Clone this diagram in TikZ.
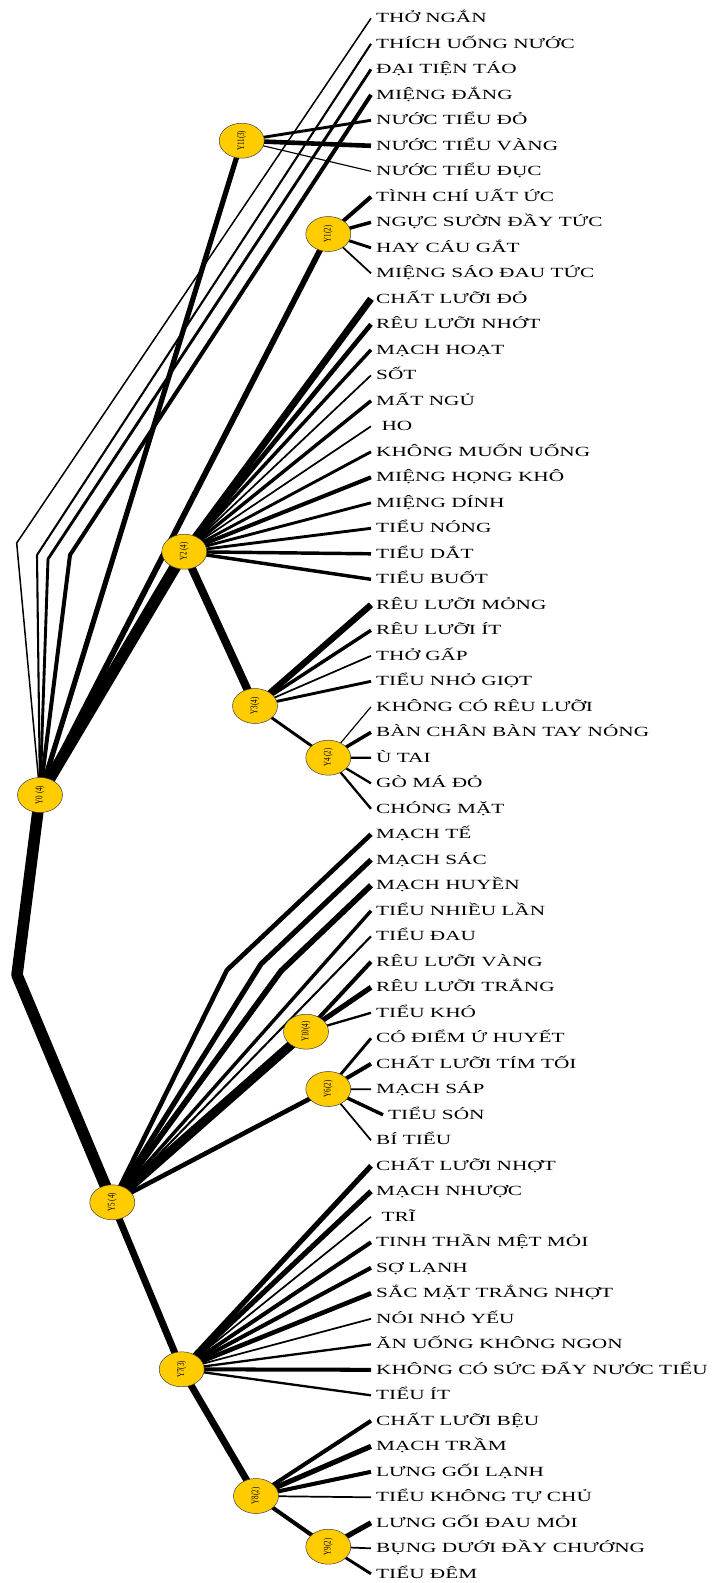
\documentclass[tikz,border=0pt]{standalone}
\usepackage{fontspec}
\usepackage{graphicx}
\setmainfont{Liberation Serif}
\usetikzlibrary{shapes.geometric,backgrounds}
\definecolor{ygold}{RGB}{255,204,0}
\newcommand\leaftext[1]{\scalebox{1.52}[1]{#1}}
\newcommand\ylab[1]{\rotatebox{90}{\scalebox{1}[1.45]{#1}}}
\begin{document}
\begin{tikzpicture}[x=1pt,y=-1pt,
  yn/.style={ellipse,draw=black!75,line width=0.5pt,fill=ygold,minimum width=45pt,minimum height=35pt,inner sep=0pt,font=\fontsize{7}{7}\selectfont},
  lf/.style={anchor=west,inner xsep=5pt,inner ysep=0pt,text height=9.3pt,text depth=0pt,font=\fontsize{14}{14}\selectfont},
  ed/.style={line width=1.15*#1pt,line join=round}
]
\useasboundingbox (0,0) rectangle (712,1583);

% internal nodes
\node[yn] (Y0)  at (40,795)     {\ylab{Y0 (4)}};
\node[yn] (Y11) at (241.7,140.7){\ylab{Y11(3)}};
\node[yn] (Y1)  at (328.3,234)  {\ylab{Y1(2)}};
\node[yn] (Y2)  at (184.3,551.7){\ylab{Y2 (4)}};
\node[yn] (Y3)  at (255,706)    {\ylab{Y3(4)}};
\node[yn] (Y4)  at (328.3,757.7){\ylab{Y4 (2)}};
\node[yn] (Y10) at (306,1031.7) {\ylab{Y10(4)}};
\node[yn] (Y6)  at (328.3,1089) {\ylab{Y6(2)}};
\node[yn] (Y5)  at (112.3,1202.3){\ylab{Y5 (4)}};
\node[yn] (Y7)  at (181.7,1369.3){\ylab{Y7(3)}};
\node[yn] (Y8)  at (256,1496)   {\ylab{Y8(2)}};
\node[yn] (Y9)  at (328.3,1546.7){\ylab{Y9(2)}};

% leaves
\foreach \t [count=\i] in {THỞ NGẮN,THÍCH UỐNG NƯỚC,ĐẠI TIỆN TÁO,MIỆNG ĐẮNG,NƯỚC TIỂU ĐỎ,NƯỚC TIỂU VÀNG,NƯỚC TIỂU ĐỤC,TÌNH CHÍ UẤT ỨC,NGỰC SƯỜN ĐẦY TỨC,HAY CÁU GẮT,MIỆNG SÁO ĐAU TỨC,CHẤT LƯỠI ĐỎ,RÊU LƯỠI NHỚT,MẠCH HOẠT,SỐT,MẤT NGỦ,\ HO,KHÔNG MUỐN UỐNG,MIỆNG HỌNG KHÔ,MIỆNG DÍNH,TIỂU NÓNG,TIỂU DẮT,TIỂU BUỐT,RÊU LƯỠI MỎNG,RÊU LƯỠI ÍT,THỞ GẤP,TIỂU NHỎ GIỌT,KHÔNG CÓ RÊU LƯỠI,BÀN CHÂN BÀN TAY NÓNG,Ù TAI,GÒ MÁ ĐỎ,CHÓNG MẶT,MẠCH TẾ,MẠCH SÁC,MẠCH HUYỀN,TIỂU NHIỀU LẦN,TIỂU ĐAU,RÊU LƯỠI VÀNG,RÊU LƯỠI TRẮNG,TIỂU KHÓ,CÓ ĐIỂM Ứ HUYẾT,CHẤT LƯỠI TÍM TỐI,MẠCH SÁP,TIỂU SÓN,BÍ TIỂU,CHẤT LƯỠI NHỢT,MẠCH NHƯỢC,\ TRĨ,TINH THẦN MỆT MỎI,SỢ LẠNH,SẮC MẶT TRẮNG NHỢT,NÓI NHỎ YẾU,ĂN UỐNG KHÔNG NGON,KHÔNG CÓ SỨC ĐẨY NƯỚC TIỂU,TIỂU ÍT,CHẤT LƯỠI BỆU,MẠCH TRẦM,LƯNG GỐI LẠNH,TIỂU KHÔNG TỰ CHỦ,LƯNG GỐI ĐAU MỎI,BỤNG DƯỚI ĐẦY CHƯỚNG,TIỂU ĐÊM}
  \node[lf] (L\i) at ({371+12*(\i==44)},{18.3+25.5*(\i-1)}) {\leaftext{\t}};

% bend points
\coordinate (b1) at (16.7,543);
\coordinate (b2) at (37,555);
\coordinate (b3) at (48,559);
\coordinate (b4) at (70,555);
\coordinate (bt) at (17,975);
\coordinate (b33) at (227,970);
\coordinate (b34) at (261,964);
\coordinate (b35) at (281,971);

\begin{pgfonlayer}{background}
\fill[white] (0,0) rectangle (712,1583);
% root connectors
\draw[ed=1.3] (Y0.center) -- (b1) -- (L1.west);
\draw[ed=1.8] (Y0.center) -- (b2) -- (L2.west);
\draw[ed=2.5] (Y0.center) -- (b3) -- (L3.west);
\draw[ed=3.5] (Y0.center) -- (b4) -- (L4.west);
\draw[ed=4.5] (Y0.center) -- (Y11.center);
\draw[ed=5] (Y0.center) -- (Y1.center);
\draw[ed=10] (Y0.center) -- (Y2.center);
\draw[ed=10] (Y0.center) -- (bt) -- (Y5.center);
\draw[ed=7] (Y2.center) -- (Y3.center);
\draw[ed=2.5] (Y3.center) -- (Y4.center);
\draw[ed=8] (Y5.center) -- (Y10.center);
\draw[ed=4] (Y5.center) -- (Y6.center);
\draw[ed=6] (Y5.center) -- (Y7.center);
\draw[ed=6] (Y7.center) -- (Y8.center);
\draw[ed=3.5] (Y8.center) -- (Y9.center);
\draw[ed=4] (Y5.center) -- (b33) -- (L33.west);
\draw[ed=4.5] (Y5.center) -- (b34) -- (L34.west);
\draw[ed=5] (Y5.center) -- (b35) -- (L35.west);
% leaf connectors
\foreach \p/\w/\i in {Y11/2.5/5,Y11/4/6,Y11/1/7,
  Y1/3.5/8,Y1/3/9,Y1/2.5/10,Y1/1.5/11,
  Y2/6/12,Y2/4/13,Y2/3/14,Y2/1.5/15,Y2/3/16,Y2/1.5/17,Y2/2.5/18,Y2/3.5/19,Y2/2.5/20,Y2/2.5/21,Y2/3/22,Y2/3/23,
  Y3/5.5/24,Y3/3/25,Y3/1.5/26,Y3/2.5/27,
  Y4/1/28,Y4/3/29,Y4/2/30,Y4/2/31,Y4/2/32,
  Y5/3/36,Y5/1.8/37,
  Y10/3.5/38,Y10/4.5/39,Y10/2/40,
  Y6/2.5/41,Y6/3.5/42,Y6/1.5/43,Y6/3/44,Y6/1.5/45,
  Y7/4.5/46,Y7/4.5/47,Y7/1.5/48,Y7/3.5/49,Y7/3.5/50,Y7/4/51,Y7/1.5/52,Y7/2/53,Y7/3.5/54,Y7/2/55,
  Y8/3.5/56,Y8/4.5/57,Y8/3.5/58,Y8/1.5/59,
  Y9/4.5/60,Y9/1.5/61,Y9/2.5/62}
  \draw[ed=\w] (\p.center) -- (L\i.west);
\end{pgfonlayer}
\end{tikzpicture}
\end{document}
